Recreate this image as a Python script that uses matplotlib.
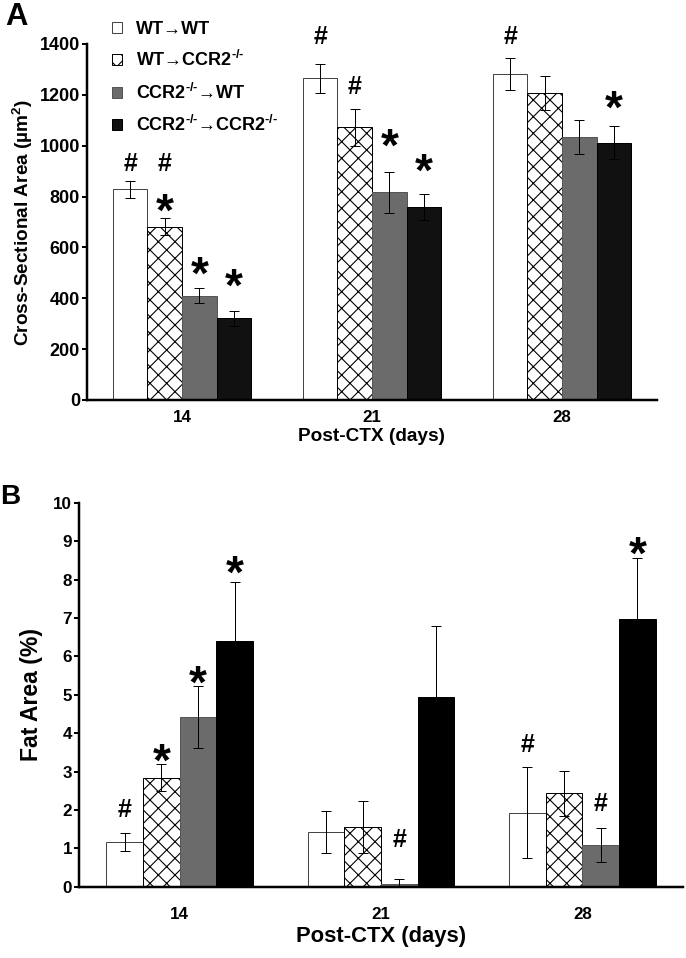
import matplotlib
matplotlib.use('Agg')
from matplotlib import pyplot as plt
from matplotlib.patches import Patch

DPI = 50
PX = 72 / DPI   # points per output pixel

plt.rcParams['font.family'] = ['Liberation Sans', 'DejaVu Sans']
plt.rcParams['font.weight'] = 'bold'
plt.rcParams['axes.labelweight'] = 'bold'
plt.rcParams['mathtext.fontset'] = 'custom'
plt.rcParams['mathtext.rm'] = 'Liberation Sans:bold'
plt.rcParams['mathtext.bf'] = 'Liberation Sans:bold'
plt.rcParams['mathtext.default'] = 'bf'
plt.rcParams['hatch.linewidth'] = 1.1 * PX

days = ['14', '21', '28']
groups = ['WT→WT', 'WT→CCR2$^{‐/‐}$', 'CCR2$^{‐/‐}$→WT', 'CCR2$^{‐/‐}$→CCR2$^{‐/‐}$']

# cross-sectional area (um^2), one list per group, across days
csa_mean = [[828, 1265, 1282], [681, 1072, 1208], [410, 817, 1035], [321, 758, 1012]]
csa_err = [[33, 56, 61], [33, 72, 67], [30, 81, 68], [30, 52, 65]]

# fat area (%)
fat_mean = [[1.16, 1.43, 1.93], [2.84, 1.55, 2.43], [4.42, 0.06, 1.09], [6.41, 4.95, 6.98]]
fat_err = [[0.23, 0.55, 1.18], [0.35, 0.68, 0.58], [0.80, 0.14, 0.44], [1.53, 1.85, 1.57]]

# significance marks: (day index, group index, symbol, y value of mark centre)
csa_marks = [(0, 0, '#', 937), (0, 1, '#', 937), (0, 1, '*', 794), (0, 2, '*', 544),
             (0, 3, '*', 498), (1, 0, '#', 1435), (1, 1, '#', 1239), (1, 2, '*', 1049),
             (1, 3, '*', 950), (2, 0, '#', 1435), (2, 3, '*', 1199)]
fat_marks = [(0, 0, '#', 2.04), (0, 1, '*', 3.6), (0, 2, '*', 5.64), (0, 3, '*', 8.5),
             (1, 2, '#', 1.28), (2, 0, '#', 3.73), (2, 2, '#', 2.21), (2, 3, '*', 8.98)]

edges = ['#444444', 'black', '#555555', 'black']
hatches = [None, 'x', None, None]
width = 0.182

# glyph centre above baseline, as fraction of font size
glyph_mid = {'#': 0.36, '*': 0.59}


def bar_x(i, j):
    return i + (j - 1.5) * width


def draw_panel(ax, means, errs, marks, faces, ymax, ystep, sizes):
    for j in range(4):
        xs = [bar_x(i, j) for i in range(3)]
        ax.bar(xs, means[j], width=width, color=faces[j], edgecolor=edges[j],
               hatch=hatches[j], linewidth=1 * PX, zorder=2)
        ax.errorbar(xs, means[j], yerr=errs[j], fmt='none', ecolor='black',
                    elinewidth=1 * PX, capsize=5 * PX, capthick=1 * PX, zorder=3)
    for i, j, sym, y in marks:
        s = sizes[sym] * PX
        ax.annotate(sym, (bar_x(i, j), y), xytext=(0, -glyph_mid[sym] * s),
                    textcoords='offset points', ha='center', va='baseline',
                    fontsize=s, fontweight='bold', annotation_clip=False)
    ax.set_xlim(-0.5, 2.5)
    ax.set_ylim(0, ymax)
    ax.set_yticks([k * ystep for k in range(int(round(ymax / ystep)) + 1)])
    ax.set_xticks(range(3))
    ax.set_xticklabels(days)
    ax.spines['top'].set_visible(False)
    ax.spines['right'].set_visible(False)
    ax.spines['left'].set_linewidth(2.5 * PX)
    ax.spines['bottom'].set_linewidth(2.5 * PX)
    ax.tick_params(axis='y', direction='out', length=5 * PX, width=2 * PX)


fig = plt.figure(figsize=(686 / DPI, 958 / DPI), dpi=DPI)

facesA = ['white', 'white', '#6b6b6b', '#111111']
axA = fig.add_axes([87 / 686, 1 - 400 / 958, 570 / 686, 356 / 958])
draw_panel(axA, csa_mean, csa_err, csa_marks, facesA, 1400, 200, {'#': 25, '*': 46})
axA.tick_params(axis='y', labelsize=18 * PX, pad=2 * PX)
axA.tick_params(axis='x', length=0, labelsize=17 * PX, pad=10 * PX)
axA.set_ylabel('Cross-Sectional Area (µm$^2$)', fontsize=19 * PX, labelpad=5 * PX)
axA.set_xlabel('Post-CTX (days)', fontsize=19 * PX, labelpad=3 * PX)

handles = [Patch(facecolor=facesA[j], edgecolor=edges[j], hatch=hatches[j], linewidth=1 * PX)
           for j in range(4)]
axA.legend(handles, groups, loc='upper left', bbox_to_anchor=(112 / 686, 1 - 21 / 958),
           bbox_transform=fig.transFigure, frameon=False, fontsize=18 * PX,
           handlelength=0.56, handleheight=0.56, handletextpad=0.75,
           labelspacing=0.68, borderpad=0, borderaxespad=0)

facesB = ['white', 'white', '#6b6b6b', '#000000']
axB = fig.add_axes([79 / 686, 1 - 886.7 / 958, 604 / 686, 384 / 958])
draw_panel(axB, fat_mean, fat_err, fat_marks, facesB, 10, 1, {'#': 25, '*': 46})
axB.tick_params(axis='y', labelsize=17 * PX, pad=2 * PX)
axB.tick_params(axis='x', length=0, labelsize=17 * PX, pad=20 * PX)
axB.set_ylabel('Fat Area (%)', fontsize=23 * PX, labelpad=10 * PX)
axB.set_xlabel('Post-CTX (days)', fontsize=22 * PX, labelpad=4 * PX)

fig.text(5 / 686, 1 - 25 / 958, 'A', fontsize=31 * PX, fontweight='bold')
fig.text(0 / 686, 1 - 504 / 958, 'B', fontsize=28 * PX, fontweight='bold')

fig.savefig('out.png', dpi=DPI)
